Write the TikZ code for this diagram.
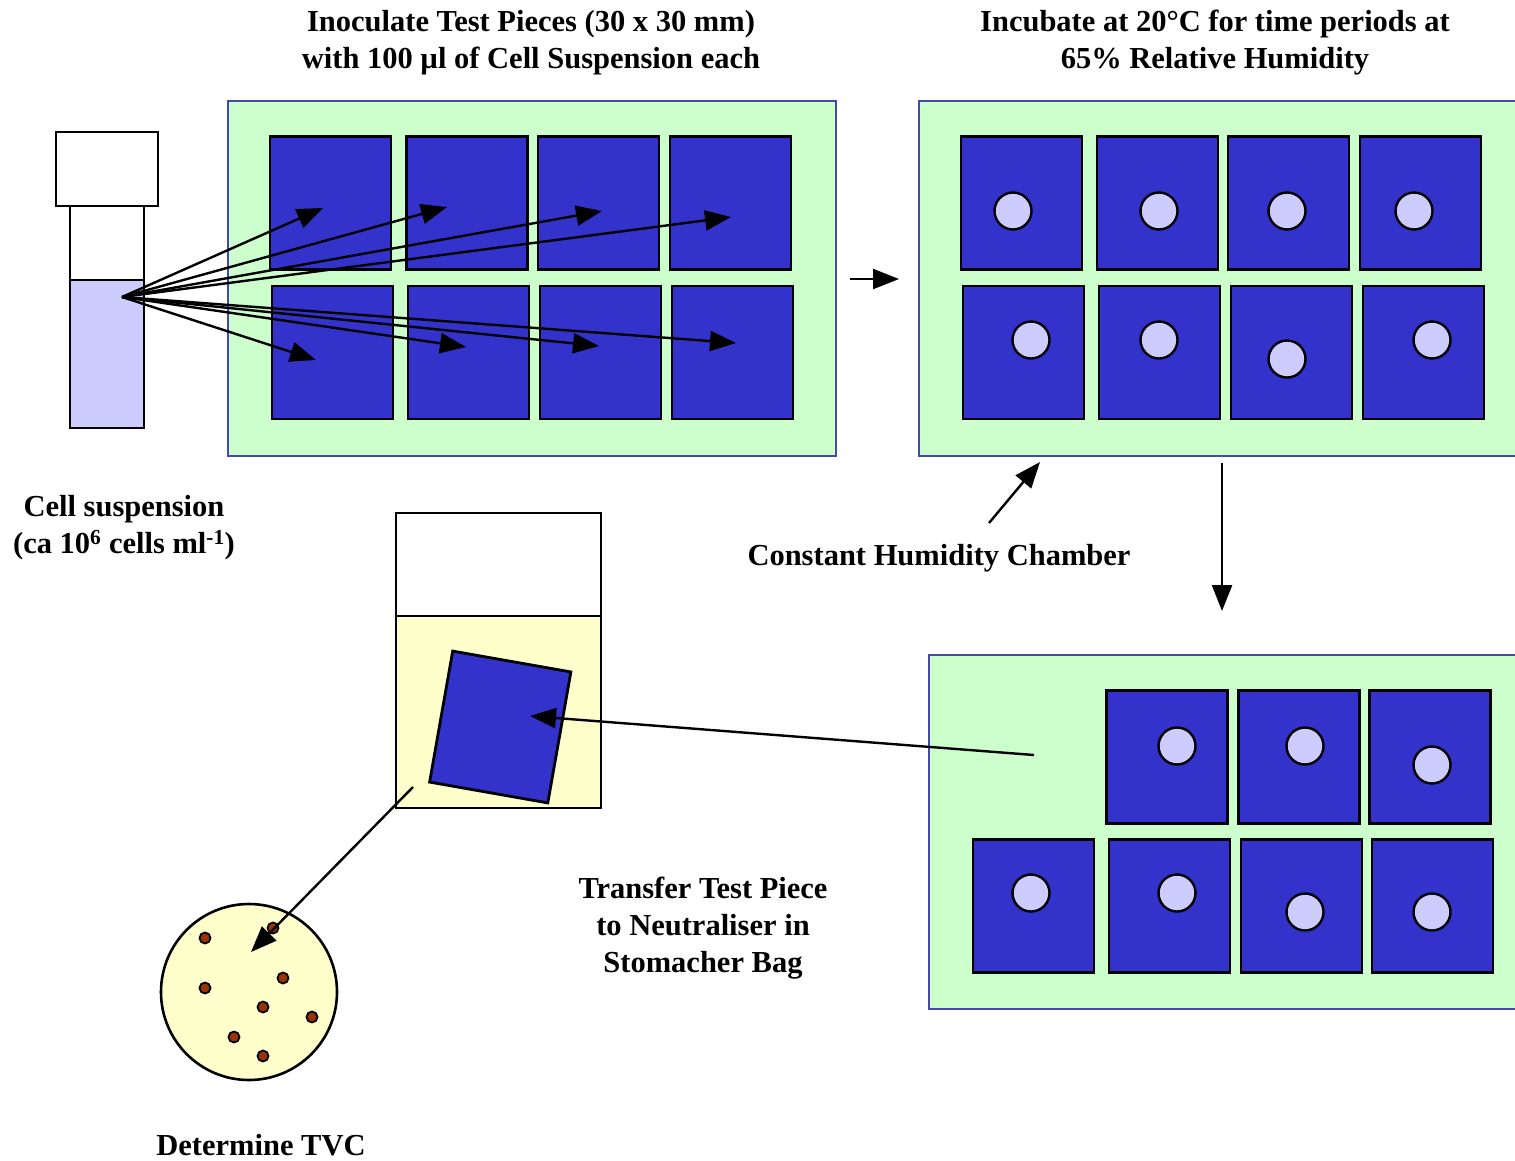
\documentclass[tikz,border=0pt]{standalone}
\usepackage{fontspec}
\setmainfont{Liberation Serif}
\usetikzlibrary{arrows.meta}
\definecolor{trayfill}{HTML}{CCFFCC}
\definecolor{trayedge}{HTML}{4848AA}
\definecolor{piecefill}{HTML}{3333CC}
\definecolor{lilac}{HTML}{CCCCFF}
\definecolor{cream}{HTML}{FFFFCC}
\definecolor{colony}{HTML}{993300}
\begin{document}
\begin{tikzpicture}[x=1pt,y=-1pt,
  tray/.style={draw=trayedge, fill=trayfill, line width=2pt},
  piece/.style={draw=black, fill=piecefill, line width=2.8pt, minimum width=121pt, minimum height=133pt, inner sep=0pt},
  spot/.style={circle, draw=black, fill=lilac, line width=2.4pt, minimum size=37pt, inner sep=0pt},
  colonydot/.style={circle, draw=black, fill=colony, line width=1.8pt, minimum size=11pt, inner sep=0pt},
  outline/.style={draw=black, line width=2.8pt},
  arr/.style={line width=2.4pt, -{Triangle[length=26pt,width=20pt]}},
  lbl/.style={font=\fontsize{30.5}{37}\selectfont\bfseries, align=center, inner sep=0pt},
]
\useasboundingbox (0,0) rectangle (1515,1160);
\fill[white] (0,0) rectangle (1515,1160);

% ---- test tube ----
\draw[outline, fill=white] (56,132) rectangle (158,206);
\draw[outline, fill=white] (70,206) rectangle (144,428);
\draw[outline, fill=lilac] (70,280) rectangle (144,428);
\coordinate (src) at (122,297);

% ---- tray 1 ----
\draw[tray] (228,101) rectangle (836,456);
\foreach \n/\x in {1/330.5,2/467,3/598.5,4/730.5}{\node[piece] (a\n) at (\x,203) {};}
\foreach \n/\x in {5/332.5,6/468.5,7/600.5,8/732.5}{\node[piece] (a\n) at (\x,352.5) {};}
\coordinate (t1) at (323,208);
\coordinate (t2) at (447,207);
\coordinate (t3) at (602,211);
\coordinate (t4) at (731,217);
\coordinate (t5) at (316,360);
\coordinate (t6) at (466,347);
\coordinate (t7) at (599,346);
\coordinate (t8) at (736,343);
\foreach \n in {1,...,8}{\draw[arr] (src) -- (t\n);}

% ---- arrow between trays ----
\coordinate (m1) at (850,279);
\coordinate (m2) at (899,279);
\draw[arr] (m1) -- (m2);

% ---- tray 2 ----
\draw[tray] (919,101) rectangle (1530,456);
\foreach \n/\x in {1/1021.5,2/1157.5,3/1288.5,4/1420.5}{\node[piece] (b\n) at (\x,203) {};}
\foreach \n/\x in {5/1023.5,6/1159.5,7/1291.5,8/1423.5}{\node[piece] (b\n) at (\x,352.5) {};}
\foreach \x/\y in {1013/211,1159/211,1287/211,1414/211,1031/340,1159/340,1287/359,1432/340}{\node[spot] at (\x,\y) {};}

% ---- humidity chamber label ----
\node[lbl] (chamber) at (939,558) {Constant Humidity Chamber};
\coordinate (c1) at (989,523);
\coordinate (c2) at (1040,462);
\draw[arr] (c1) -- (c2);

% ---- down arrow ----
\coordinate (d1) at (1222,463);
\coordinate (d2) at (1222,611);
\draw[arr] (d1) -- (d2);

% ---- tray 3 ----
\draw[tray] (929,655) rectangle (1530,1009);
\foreach \n/\x in {1/1167,2/1299,3/1430}{\node[piece] (c\n) at (\x,757) {};}
\foreach \n/\x in {5/1033.5,6/1169.5,7/1301.5,8/1432.5}{\node[piece] (c\n) at (\x,906) {};}
\foreach \x/\y in {1177/746,1305/746,1432/765,1031/893,1177/893,1305/912,1432/912}{\node[spot] at (\x,\y) {};}

% ---- stomacher bag ----
\draw[outline, fill=white] (396,513) rectangle (601,808);
\draw[outline, fill=cream] (396,616) rectangle (601,808);
\node[piece, minimum width=120pt, rotate=-10] (bagpiece) at (500.25,727) {};
\coordinate (x1) at (1034,755);
\coordinate (x2) at (530,716);
\draw[arr] (x1) -- (x2);

% ---- petri dish ----
\node[circle, draw=black, fill=cream, line width=2.6pt, minimum size=176pt, inner sep=0pt] (dish) at (249,992) {};
\foreach \x/\y in {205/938,273/928,283/978,205/988,263/1007,312/1017,234/1037,263/1056}{\node[colonydot] at (\x,\y) {};}
\coordinate (y1) at (413,787);
\coordinate (y2) at (251,952);
\draw[arr] (y1) -- (y2);

% ---- labels ----
\node[lbl] (title1) at (531,43) {Inoculate Test Pieces (30 x 30 mm)\\with 100 µl of Cell Suspension each};
\node[lbl] (title2) at (1215,43) {Incubate at 20°C for time periods at\\65\% Relative Humidity};
\node[lbl] (cells) at (124,528) {Cell suspension\\(ca 10\textsuperscript{6} cells ml\textsuperscript{-1})};
\node[lbl] (transfer) at (703,928) {Transfer Test Piece\\to Neutraliser in\\Stomacher Bag};
\node[lbl] (tvc) at (261,1145) {Determine TVC};
\end{tikzpicture}
\end{document}
